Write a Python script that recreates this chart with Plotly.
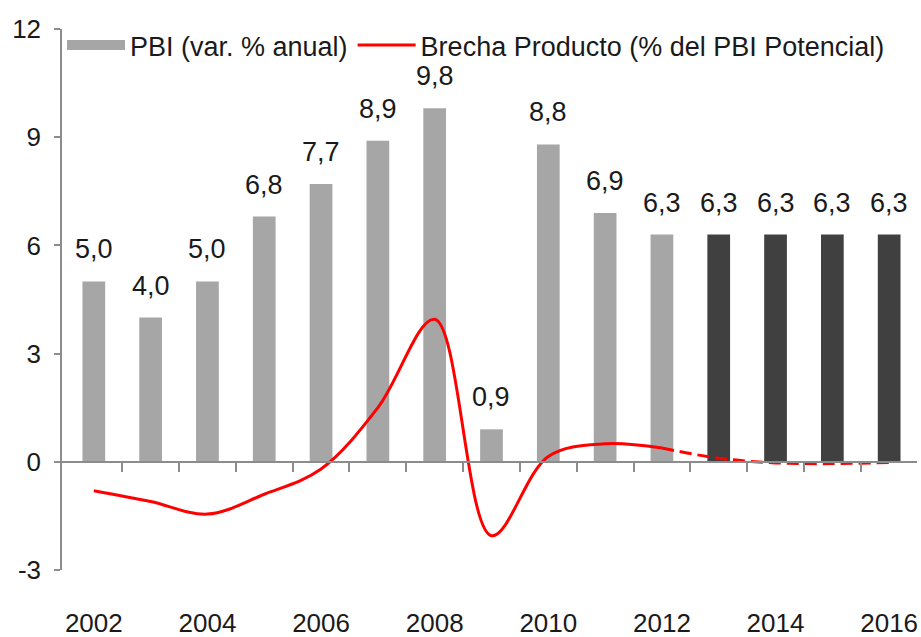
import plotly.graph_objects as go

years = list(range(2002, 2017))
pbi = [5.0, 4.0, 5.0, 6.8, 7.7, 8.9, 9.8, 0.9, 8.8, 6.9, 6.3, 6.3, 6.3, 6.3, 6.3]
brecha = [-0.8, -1.1, -1.45, -0.9, -0.2, 1.5, 3.95, -2.05, 0.15, 0.5, 0.38, 0.1, -0.03, -0.05, -0.02]
last_actual = 2012
x_tick_years = [2002, 2004, 2006, 2008, 2010, 2012, 2014, 2016]
y_ticks = [-3, 0, 3, 6, 9, 12]
y_tick_text = ["-3", "0", "3", "6", "9", "12"]

GRAY = "#A6A6A6"
DARK = "#404040"
RED = "#FF0000"
AXIS = "#8C8C8C"
TXT = "#1a1a1a"
FONT = "Liberation Sans, Arial, sans-serif"
FS = 26

bar_colors = [GRAY if y <= last_actual else DARK for y in years]

hist_x = [y for y in years if y <= last_actual]
hist_y = brecha[:len(hist_x)]
proj_x = [y for y in years if y >= last_actual]
proj_y = brecha[len(hist_x) - 1:]

XR = [2001.44, 2016.49]

fig = go.Figure()
fig.add_trace(go.Bar(
    x=years, y=pbi, name="PBI (var. % anual)", showlegend=False,
    marker=dict(color=bar_colors, line=dict(width=0)),
    width=0.4,
))
# legend entry for the bars (wide gray swatch)
fig.add_trace(go.Scatter(
    x=[years[0]], y=[None], mode="lines", name="PBI (var. % anual)",
    line=dict(color=GRAY, width=17), hoverinfo="skip",
))
fig.add_trace(go.Scatter(
    x=hist_x, y=hist_y, mode="lines", name="Brecha Producto (% del PBI Potencial)",
    line=dict(color=RED, width=3, shape="spline", smoothing=1),
))
fig.add_trace(go.Scatter(
    x=proj_x, y=proj_y, mode="lines", showlegend=False,
    line=dict(color=RED, width=3, shape="spline", smoothing=1, dash="12px,6px"),
))
# helper trace to host the axis drawn at y = 0
fig.add_trace(go.Scatter(x=[years[0]], y=[None], xaxis="x2", mode="lines",
                         showlegend=False, hoverinfo="skip"))

annotations = [
    dict(x=x, y=v, xref="x", yref="y", text=f"{v:.1f}".replace(".", ","),
         showarrow=False, yanchor="bottom", yshift=15,
         font=dict(size=27, color=TXT, family=FONT))
    for x, v in zip(years, pbi)
]

fig.update_layout(
    width=921, height=637,
    margin=dict(l=62, r=4, t=29, b=67, autoexpand=False),
    paper_bgcolor="white", plot_bgcolor="white",
    separators=",.",
    font=dict(family=FONT, size=FS, color=TXT),
    showlegend=True,
    annotations=annotations,
    legend=dict(orientation="h", x=0.0, xanchor="left", y=1.0148, yanchor="top",
                bgcolor="rgba(0,0,0,0)", font=dict(size=27, color=TXT, family=FONT),
                itemwidth=58, tracegroupgap=0),
    xaxis=dict(
        range=XR, tickmode="array", tickvals=x_tick_years,
        ticktext=[str(v) for v in x_tick_years], automargin=False,
        showline=False, showgrid=False, zeroline=False, ticks="",
        ticklabeloverflow="allow",
        ticklabelstandoff=35, tickfont=dict(size=FS, color=TXT, family=FONT),
    ),
    xaxis2=dict(
        overlaying="x", anchor="free", position=0.2, matches="x",
        range=XR, tickmode="array", automargin=False,
        tickvals=[y + 0.5 for y in years],
        showticklabels=False, showline=True, linecolor=AXIS, linewidth=1.5,
        ticks="outside", ticklen=9, tickcolor=AXIS, tickwidth=1.5,
        showgrid=False, zeroline=False,
    ),
    yaxis=dict(
        range=[-3, 12], tickmode="array", tickvals=y_ticks, ticktext=y_tick_text,
        showline=True, linecolor=AXIS, linewidth=1.5, automargin=False,
        ticks="outside", ticklen=6, tickcolor=AXIS, tickwidth=1.5,
        showgrid=False, zeroline=False, ticklabelstandoff=8,
        tickfont=dict(size=FS, color=TXT, family=FONT),
    ),
)

fig.write_html(
    "out.html",
    config={"displayModeBar": False},
    post_script="document.body.style.margin='0';document.body.style.overflow='hidden';",
)
